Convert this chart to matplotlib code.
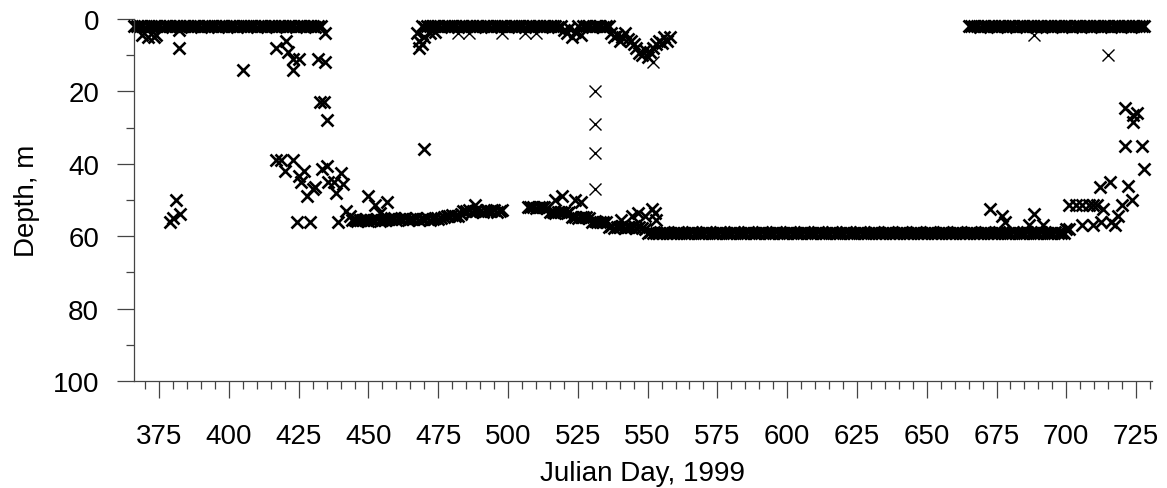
import numpy as np
import matplotlib.pyplot as plt
from matplotlib.ticker import MultipleLocator

plt.rcParams['font.family'] = ['Liberation Sans', 'DejaVu Sans']
plt.rcParams['font.size'] = 20

# daily mean depths (m); each list starts at the given Julian day
surface1_start = 366
surface1_depth = [
    2, 2, 1.8, 2, 2.2, 2, 2, 1.8, 2, 2, 2.2, 2, 2, 2, 1.8, 2, 2, 2.2, 2, 2, 2, 1.8, 2, 2, 2.2,
    2, 2, 1.8, 2, 2, 2.2, 2, 2, 2, 1.8, 2, 2, 2.2, 2, 2, 2, 1.8, 2, 2, 2.2, 2, 2, 2, 1.8, 2,
    2, 2.2, 2, 2, 2, 1.8, 2, 2, 2.2, 2, 2, 2, 1.8, 2, 2, 2.2, 2, 2,
]

surface2_start = 469
surface2_depth = [
    2, 2.2, 2, 2, 1.8, 2, 2, 2.2, 2, 2, 1.8, 2, 2, 2.2, 2, 2, 1.8, 2, 2, 2.2, 2, 2, 1.8, 2, 2,
    2.2, 2, 2, 1.8, 2, 2, 2.2, 2, 2, 1.8, 2, 2, 2.2, 2, 2, 1.8, 2, 2, 2.2, 2, 2, 1.8, 2, 2, 2.2, 2,
    3, 4, 2.5, 5, 3.5, 2, 4.5,
    2, 2, 1.8, 2.2, 2, 2, 1.8, 2.2, 2, 2,
    4, 5, 4.5, 6, 5, 3.8, 5.5, 6,
    7, 8, 9.5, 10, 8.5, 10.5, 9,
    8, 7, 6, 6.5, 5, 6, 5,
]

surface3_start = 665
surface3_depth = [
    2, 2, 1.8, 2, 2.2, 2, 2, 1.8, 2, 2, 2.2, 2, 2, 2, 1.8, 2, 2, 2.2, 2, 2, 2, 1.8, 2, 2, 2.2,
    2, 2, 1.8, 2, 2, 2.2, 2, 2, 2, 1.8, 2, 2, 2.2, 2, 2, 2, 1.8, 2, 2, 2.2, 2, 2, 2, 1.8, 2,
    2, 2.2, 2, 2, 2, 1.8, 2, 2, 2.2, 2, 2, 2, 1.8, 2,
]

bottom1_start = 444
bottom1_depth = [
    55.5, 55.3, 55.7, 55.5, 55.5, 55.3, 55.7, 55.5, 55.5, 55.3, 55.7, 55.5, 55.5, 55.3,
    55.2, 55, 55.4, 55.2, 55.2, 55, 55.4, 55.2, 55.2, 55, 55.4, 55.2, 55.2, 55, 55.4, 55.2,
    55, 55.2, 55, 54.8,
    54.3, 54.3, 54.1, 54.5, 54.3, 54,
    53, 53, 52.8, 53.2, 53, 52.8, 53, 53.2, 52.8, 53, 53, 52.8, 53.2, 53, 52.8,
]

bottom2_start = 507
bottom2_depth = [
    52, 52, 51.8, 52.2, 52, 52, 51.8, 52.2,
    53.4, 53.2, 53.6, 53.4, 53.4, 53.2, 53.6, 53.4,
    54.8, 54.6, 55, 54.8, 54.8, 54.6, 55,
    56, 55.8, 56.2, 56, 56, 56.2,
    57.5, 57.3, 57.7, 57.5, 57.5, 57.3, 57.7, 57.5, 57.5, 57.3, 57.7, 57.5, 57.8, 58,
    59, 58.8, 59.2, 59, 59, 59, 58.8, 59.2, 59, 59, 59, 58.8, 59.2, 59, 59, 59, 58.8, 59.2, 59, 59, 59, 58.8, 59.2, 59, 59,
    59, 58.8, 59.2, 59, 59, 59, 58.8, 59.2, 59, 59, 59, 58.8, 59.2, 59, 59, 59, 58.8, 59.2, 59, 59, 59, 58.8, 59.2, 59, 59,
    59, 58.8, 59.2, 59, 59, 59, 58.8, 59.2, 59, 59, 59, 58.8, 59.2, 59, 59, 59, 58.8, 59.2, 59, 59, 59, 58.8, 59.2, 59, 59,
    59, 58.8, 59.2, 59, 59, 59, 58.8, 59.2, 59, 59, 59, 58.8, 59.2, 59, 59, 59, 58.8, 59.2, 59, 59, 59, 58.8, 59.2, 59, 59,
    59, 58.8, 59.2, 59, 59, 59, 58.8, 59.2, 59, 59, 59, 58.8, 59.2, 59, 59, 59, 58.8, 59.2, 59, 59, 59, 58.8, 59.2, 59, 59,
    59, 58.8, 59.2, 59, 59, 59, 58.8, 59.2, 59, 59, 59, 58.8, 59.2, 59, 59, 59, 58.8, 59.2, 59, 59, 59, 58.8, 59.2, 59, 59,
    58, 58,
]

# single fixes away from the daily tracks
fix_day = [
    369, 371, 373, 374, 382, 382, 405,
    417, 420.5, 421, 423, 425, 423, 432, 434.5, 434.5, 432.5, 434, 435,
    379, 380, 381, 382.5,
    417, 418.5, 420, 423, 425, 426, 427, 428, 430, 431, 433.5, 435, 435.5, 437.5, 438.5, 440, 441,
    424.5, 429, 439, 442, 443.5, 445, 447, 449, 450, 452.5, 454, 456.5, 458,
    467.5, 468, 468, 469, 470, 472, 474, 470,
    488, 517, 519.5, 524, 526,
    540.5, 544.5, 546.5, 549, 551.5, 552.5, 553,
    672.5, 677, 678, 688.5, 686.5, 691.5,
    701, 703.5, 705.5, 708, 709.5, 711, 713, 705.5, 709.5, 712.5, 716, 717.5,
    712, 715.5, 722, 720, 723.5, 718.5,
    721, 724, 725.5, 724, 721, 727, 728,
]
fix_depth = [
    4.5, 5, 5, 4.5, 8, 3, 14,
    8, 6, 9, 11, 11, 14, 11, 12, 4, 23, 23, 28,
    56, 55, 50, 54,
    39, 39, 42, 39, 43.5, 45, 42, 49, 47, 46.5, 41.5, 40.5, 45, 45, 48, 42.5, 45.5,
    56, 56, 56, 53, 54.5, 55.5, 55.5, 55.5, 49, 51.5, 53.5, 50.5, 55,
    4, 6, 8, 7, 5, 4, 3.5, 36,
    51.5, 50, 49, 50, 50.5,
    55.5, 54.5, 53.5, 54.5, 52.5, 53.5, 55.5,
    52.5, 54.5, 56, 54, 57, 57,
    51.5, 51.5, 51.5, 51.5, 51.5, 51.5, 52.5, 57, 57, 56, 56, 57,
    46.5, 45, 46, 51.5, 50, 54.5,
    24.5, 26.5, 26, 28.5, 35, 35, 41.5,
]

# fixes from the second logger
fix2_day = [531, 531, 531, 531, 552, 688.5, 715, 482, 486, 498, 506, 510]
fix2_depth = [20, 29, 37, 47, 12, 4.5, 10, 4, 4, 4, 4, 4]


def days_from(start, depths):
    return np.arange(start, start + len(depths))


fig = plt.figure(figsize=(11.67, 4.89), dpi=100)
ax = fig.add_axes([134 / 1167, 107 / 489, 1018 / 1167, 362 / 489])

thick = dict(linestyle='none', marker='x', color='k', ms=8.8, mew=1.9, clip_on=False)
for start, depth in [(surface1_start, surface1_depth), (surface2_start, surface2_depth),
                     (surface3_start, surface3_depth), (bottom1_start, bottom1_depth),
                     (bottom2_start, bottom2_depth)]:
    ax.plot(days_from(start, depth), depth, **thick)
ax.plot(fix_day, fix_depth, **thick)
ax.plot(fix2_day, fix2_depth, linestyle='none', marker='x', color='k', ms=8.8, mew=1.0,
        clip_on=False)

ax.set_xlim(366, 730.7)
ax.set_ylim(100, 0)
ax.xaxis.set_major_locator(MultipleLocator(25))
ax.xaxis.set_minor_locator(MultipleLocator(5))
ax.yaxis.set_major_locator(MultipleLocator(20))
ax.yaxis.set_minor_locator(MultipleLocator(10))

for s in ['top', 'right']:
    ax.spines[s].set_visible(False)
for s in ['left', 'bottom']:
    ax.spines[s].set_color('#444444')
    ax.spines[s].set_linewidth(0.9)

ax.tick_params(which='both', direction='out', color='#444444', width=0.9)
ax.tick_params(which='major', length=12.2)
ax.tick_params(which='minor', length=5.5)
ax.tick_params(axis='x', which='major', pad=18)
ax.tick_params(axis='y', which='major', pad=13)

ax.set_xlabel('Julian Day, 1999', labelpad=8)
ax.set_ylabel('Depth, m', labelpad=9)

fig.savefig('out.png', dpi=100)
